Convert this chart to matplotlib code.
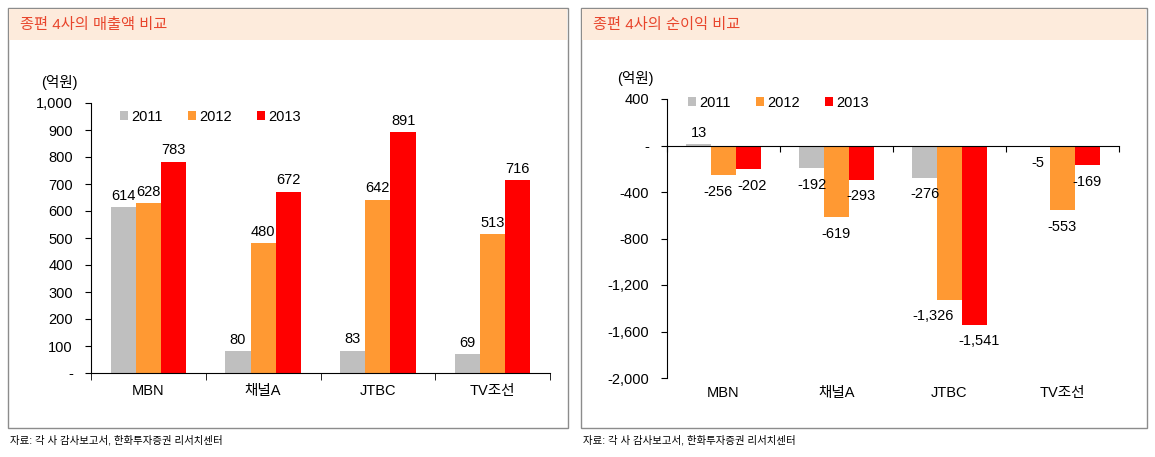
import matplotlib
matplotlib.use('Agg')
import matplotlib.pyplot as plt
from matplotlib.patches import Rectangle
from matplotlib.ticker import FuncFormatter
import numpy as np

plt.rcParams['font.family'] = ['Liberation Sans', 'Noto Sans CJK KR']
plt.rcParams['font.size'] = 10.5

channels = ['MBN', '채널A', 'JTBC', 'TV조선']
years = ['2011', '2012', '2013']
sales_2011 = [614, 80, 83, 69]
sales_2012 = [628, 480, 642, 513]
sales_2013 = [783, 672, 891, 716]
profit_2011 = [13, -192, -276, -5]
profit_2012 = [-256, -619, -1326, -553]
profit_2013 = [-202, -293, -1541, -169]

colors = ['#BFBFBF', '#FF9933', '#FF0000']
W, H = 1155, 457

# sideways nudges (px) for labels that would collide, keyed (series, category)
profit_nudge = {(1, 0): -5, (2, 0): 4, (1, 2): -16, (2, 2): 5}


def px(x0, y0, x1, y1):
    # pixel box (top-left origin) -> figure fraction rect
    return [x0 / W, 1 - y1 / H, (x1 - x0) / W, (y1 - y0) / H]


def fmt(v, pos=None):
    if v == 0:
        return '-'
    return f'{v:,.0f}'


def panel(fig, x0, x1, title):
    fig.add_artist(Rectangle((x0 / W, 1 - 428 / H), (x1 - x0) / W, 420 / H,
                             transform=fig.transFigure, fill=False,
                             edgecolor='#8C8C8C', lw=1))
    fig.add_artist(Rectangle(((x0 + 1) / W, 1 - 40 / H), (x1 - x0 - 2) / W, 31 / H,
                             transform=fig.transFigure, facecolor='#FDEBDC',
                             edgecolor='none'))
    fig.text((x0 + 12) / W, 1 - 25 / H, title, color='#E8452C', fontsize=11, va='center')
    fig.text((x0 + 2) / W, 1 - 440 / H, '자료: 각 사 감사보고서, 한화투자증권 리서치센터',
             fontsize=7.5, va='center')


def draw_bars(ax, series, nudge=None):
    nudge = nudge or {}
    x = np.arange(len(channels))
    w = 0.22
    for k, vals in enumerate(series):
        xs = x + (k - 1) * w
        ax.bar(xs, vals, w, color=colors[k], label=years[k])
        for j, (xi, v) in enumerate(zip(xs, vals)):
            dx = nudge.get((k, j), 0) * 0.72
            if v >= 0:
                ax.annotate(f'{v:,}', (xi, v), xytext=(dx, 3), textcoords='offset points',
                            ha='center', va='bottom')
            else:
                ax.annotate(f'{v:,}', (xi, v), xytext=(dx, -7), textcoords='offset points',
                            ha='center', va='top')
    ax.set_xlim(-0.5, len(channels) - 0.5)


def legend(ax, x, y):
    ax.legend(ncol=3, frameon=False, loc='center left', bbox_to_anchor=(x, y),
              handlelength=0.55, handleheight=0.55, handletextpad=0.25,
              columnspacing=1.7, borderaxespad=0, borderpad=0)


fig = plt.figure(figsize=(W / 100, H / 100), dpi=100)
panel(fig, 8, 568, '종편 4사의 매출액 비교')
panel(fig, 581, 1147, '종편 4사의 순이익 비교')

# left: sales
ax1 = fig.add_axes(px(91, 103, 550, 373))
draw_bars(ax1, [sales_2011, sales_2012, sales_2013])
ax1.set_ylim(0, 1000)
ax1.set_yticks(np.arange(0, 1001, 100))
ax1.yaxis.set_major_formatter(FuncFormatter(fmt))
ax1.set_xticks(np.arange(len(channels)))
ax1.set_xticklabels(channels)
ax1.set_xticks(np.arange(len(channels) + 1) - 0.5, minor=True)
ax1.tick_params(axis='x', which='major', length=0, pad=8)
ax1.tick_params(axis='x', which='minor', length=5, direction='out')
ax1.tick_params(axis='y', length=4, pad=9)
for s in ['top', 'right']:
    ax1.spines[s].set_visible(False)
legend(ax1, 0.063, 0.948)
fig.text(59 / W, 1 - 83 / H, '(억원)', ha='center', va='center')

# right: net profit
ax2 = fig.add_axes(px(667, 99, 1119, 378))
draw_bars(ax2, [profit_2011, profit_2012, profit_2013], profit_nudge)
ax2.set_ylim(-2000, 400)
ax2.set_yticks(np.arange(-2000, 401, 400))
ax2.yaxis.set_major_formatter(FuncFormatter(fmt))
ax2.spines['bottom'].set_position(('data', 0))
ax2.set_xticks(np.arange(len(channels) + 1) - 0.5)
ax2.set_xticklabels([])
ax2.tick_params(axis='x', length=4, direction='out')
ax2.tick_params(axis='y', length=4, pad=9)
for s in ['top', 'right']:
    ax2.spines[s].set_visible(False)
for i, name in enumerate(channels):
    ax2.text(i, -0.055, name, transform=ax2.get_xaxis_transform(),
             ha='center', va='center')
legend(ax2, 0.046, 0.986)
fig.text(635 / W, 1 - 79 / H, '(억원)', ha='center', va='center')

fig.savefig('out.png', dpi=100)
